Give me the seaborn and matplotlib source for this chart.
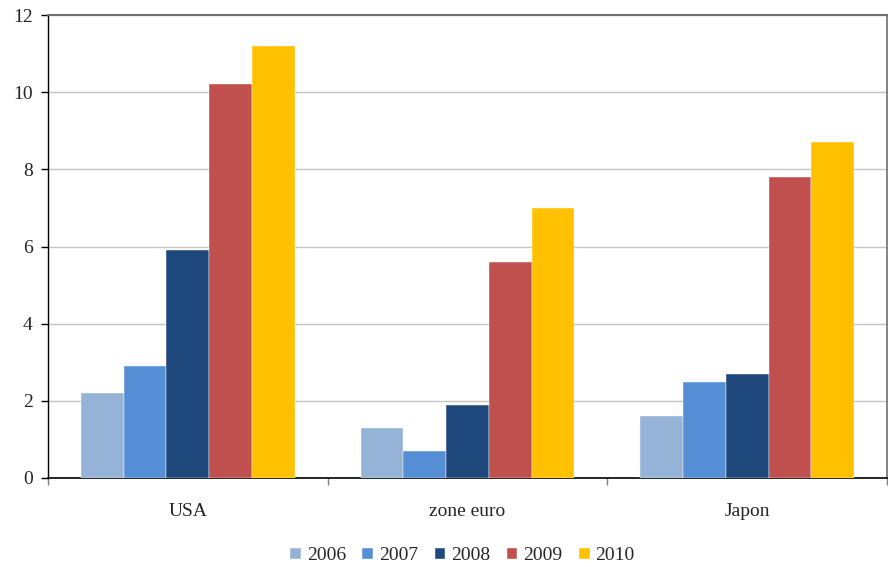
import pandas as pd
import numpy as np
import matplotlib
matplotlib.use('Agg')
import matplotlib.pyplot as plt
import seaborn as sns

# data
regions = ['USA', 'zone euro', 'Japon']
years = ['2006', '2007', '2008', '2009', '2010']
v2006 = [2.2, 1.3, 1.6]
v2007 = [2.9, 0.7, 2.5]
v2008 = [5.9, 1.9, 2.7]
v2009 = [10.2, 5.6, 7.8]
v2010 = [11.2, 7.0, 8.7]
colors = ['#95B3D7', '#558ED5', '#1F497D', '#C0504D', '#FFC000']

series = [v2006, v2007, v2008, v2009, v2010]
rows = []
for yr, vals in zip(years, series):
    for reg, v in zip(regions, vals):
        rows.append({'region': reg, 'year': yr, 'value': v})
df = pd.DataFrame(rows)

sns.set_style('white')
plt.rcParams['font.family'] = ['Liberation Serif', 'DejaVu Serif']

fig = plt.figure(figsize=(8.88, 5.67), dpi=100)
ax = fig.add_axes([48/888, 89/567, 839/888, 463/567])

sns.barplot(data=df, x='region', y='value', hue='year', order=regions,
            hue_order=years, palette=colors, width=0.765, dodge=True,
            edgecolor='white', linewidth=0.3, saturation=1, ax=ax, zorder=3)

ax.set_ylim(0, 12)
ax.set_xlim(-0.5, 2.5)
ax.set_yticks(np.arange(0, 13, 2))
ax.yaxis.grid(True, color='#C4C4C4', linewidth=1, zorder=0)
ax.set_axisbelow(True)
ax.set_xlabel('')
ax.set_ylabel('')

# category boundary ticks on the x axis
ax.set_xticks([-0.5, 0.5, 1.5, 2.5])
ax.set_xticklabels([])
ax.tick_params(axis='x', which='major', direction='out', length=5, width=1, color='#808080')
ax.set_xticks([0, 1, 2], minor=True)
ax.set_xticklabels(regions, minor=True, fontsize=14)
ax.tick_params(axis='x', which='minor', length=0, pad=18)
ax.tick_params(axis='y', direction='out', length=5, width=1, color='black', labelsize=14, pad=6)
ax.yaxis.set_ticks_position('left')
ax.xaxis.set_ticks_position('bottom')

ax.spines['left'].set_color('black')
ax.spines['bottom'].set_color('black')
ax.spines['left'].set_linewidth(1)
ax.spines['bottom'].set_linewidth(1.2)
ax.spines['top'].set_color('#6E6E6E')
ax.spines['right'].set_color('#6E6E6E')
ax.spines['top'].set_linewidth(1.5)
ax.spines['right'].set_linewidth(1.2)

leg = ax.legend(loc='center', bbox_to_anchor=(0.494, -0.168), ncol=5, frameon=False,
                fontsize=14, handlelength=0.55, handleheight=0.55, handletextpad=0.3,
                columnspacing=0.85)

plt.savefig('out.png', dpi=100)
plt.close()
